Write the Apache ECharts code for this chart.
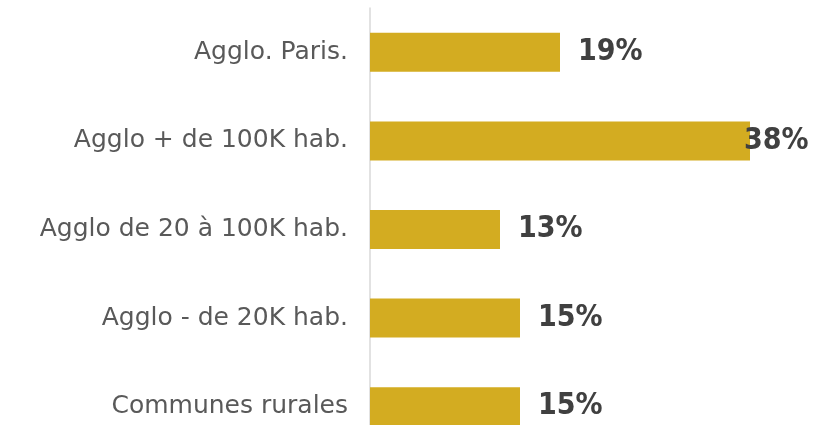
<!DOCTYPE html>
<html>
<head>
<meta charset="utf-8">
<script src="https://cdn.jsdelivr.net/npm/echarts@6/dist/echarts.min.js"></script>
<style>
  html, body { margin: 0; padding: 0; background: #ffffff; }
  #chart { width: 813px; height: 425px; }
</style>
</head>
<body>
<div id="chart"></div>
<script>
// Répartition par taille d'agglomération (en %)
const categories = [
  'Agglo. Paris.',
  'Agglo + de 100K hab.',
  'Agglo de 20 à 100K hab.',
  'Agglo - de 20K hab.',
  'Communes rurales'
];
const values = [19, 38, 13, 15, 15];

const barColor = '#D3AC21';
const labelColor = '#404040';

const chart = echarts.init(document.getElementById('chart'));

// Category axis runs top to bottom, so reverse the order for ECharts.
const cats = categories.slice().reverse();
const data = values.slice().reverse().map(function (v) {
  const item = { value: v };
  if (v === Math.max.apply(null, values)) {
    // The longest bar's label sits against its end
    item.label = { offset: [-24, 0] };
  }
  return item;
});

chart.setOption({
  animation: false,
  // The plot runs past the bottom edge, so the last bar is cut off
  grid: {
    left: 370, width: 400, top: 8, height: 443,
    containLabel: false,
    outerBoundsMode: 'none'
  },
  xAxis: {
    type: 'value',
    min: 0,
    max: 40,
    show: false
  },
  yAxis: {
    type: 'category',
    data: cats,
    axisLine: { show: true, lineStyle: { color: '#D9D9D9', width: 1.5 } },
    axisTick: { show: false },
    axisLabel: {
      color: '#595959',
      fontFamily: 'DejaVu Sans',
      fontSize: 25,
      margin: 22
    }
  },
  series: [{
    type: 'bar',
    data: data,
    barCategoryGap: '56%',
    itemStyle: { color: barColor },
    label: {
      show: true,
      position: 'right',
      distance: 18,
      formatter: '{c}%',
      color: labelColor,
      fontFamily: 'DejaVu Sans Condensed',
      fontWeight: 'bold',
      fontSize: 30
    }
  }]
});
</script>
</body>
</html>
